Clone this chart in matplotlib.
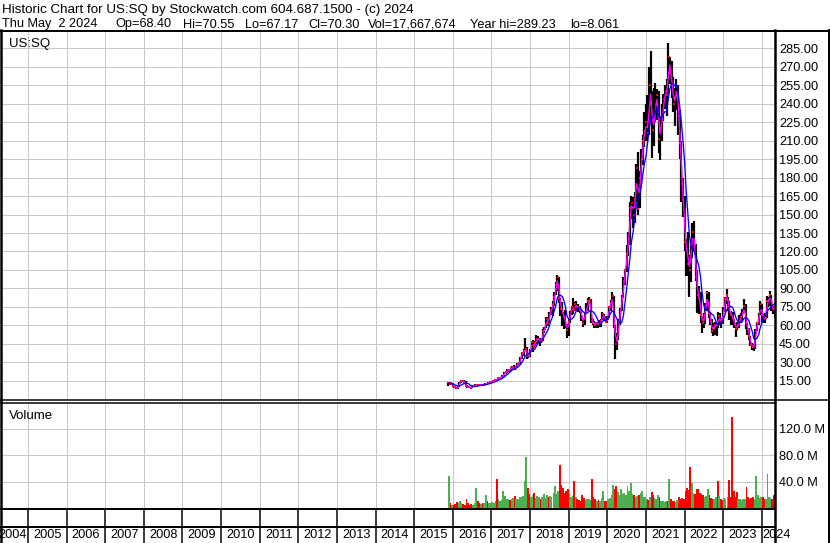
import numpy as np
import pandas as pd
import matplotlib
matplotlib.use('Agg')
import matplotlib.pyplot as plt
from matplotlib.lines import Line2D

plt.rcParams['font.family'] = ['Liberation Sans', 'DejaVu Sans']

# semi-monthly bars, US:SQ, Nov 2015 -> May 2024
close = [12.9, 12.5, 13.0,
         10.8, 9.6, 9.0, 10.1, 13.5, 15.0, 14.5, 14.2, 11.0, 9.8, 9.7, 9.2, 10.6, 10.9, 11.5, 11.3, 11.2, 11.7, 11.6, 11.9, 12.6, 12.4, 13.5, 13.6,
         14.3, 14.6, 15.5, 15.4, 17.0, 17.3, 17.6, 19.0, 21.3, 21.8, 24.0, 23.5, 25.0, 26.3, 24.4, 26.0, 28.7, 28.8, 33.5, 37.2, 39.0, 41.0, 35.5, 34.7,
         40.0, 46.5, 42.0, 45.5, 49.0, 49.2, 47.5, 47.5, 55.0, 57.0, 65.0, 61.6, 69.0, 72.5, 76.5, 83.0, 93.0, 99.0, 82.0, 73.5, 70.0, 66.5, 60.5, 56.1,
         63.0, 71.3, 74.5, 72.5, 77.0, 75.0, 74.5, 72.9, 66.0, 62.0, 70.0, 72.5, 79.5, 80.4, 63.5, 61.8, 60.5, 61.9, 61.0, 61.9, 63.5, 69.0, 66.8, 62.6,
         65.5, 74.6, 78.0, 83.5, 62.0, 45.0, 48.5, 63.0, 72.0, 82.0, 96.0, 104.9, 118.0, 129.8, 155.0, 159.6, 150.0, 162.5, 188.0, 154.8, 180.0, 195.0, 210.0, 217.6,
         225.0, 216.0, 255.0, 240.0, 219.0, 227.0, 240.0, 247.0, 211.0, 220.0, 230.0, 243.8, 250.0, 247.0, 278.0, 265.0, 255.0, 240.0, 245.0, 254.5, 230.0, 208.0, 175.0, 161.5,
         128.0, 122.0, 110.0, 105.0, 125.0, 135.6, 125.0, 99.5, 85.0, 82.0, 68.0, 61.5, 65.0, 76.0, 86.0, 70.0, 63.0, 55.0, 58.0, 60.1, 60.0, 67.8, 64.0, 62.8,
         72.0, 81.7, 85.0, 75.0, 71.0, 68.6, 65.0, 60.8, 57.0, 60.0, 64.0, 66.6, 70.0, 75.4, 62.0, 57.0, 51.0, 44.3, 42.0, 42.3, 55.0, 61.9, 66.0, 77.4,
         68.0, 65.0, 66.0, 79.5, 80.0, 84.6, 76.0, 73.0, 70.3]
high = [14.2, 13.6, 13.5,
        13.0, 11.0, 10.2, 10.6, 14.0, 15.6, 15.5, 15.3, 14.4, 11.4, 10.3, 10.0, 11.0, 11.3, 12.0, 11.9, 11.8, 12.1, 12.5, 12.6, 13.0, 13.2, 14.0, 14.3,
        15.0, 15.3, 16.0, 16.7, 17.5, 18.0, 18.3, 19.8, 22.0, 22.8, 24.7, 24.8, 25.6, 27.0, 27.5, 27.2, 29.3, 30.0, 34.5, 38.4, 40.5, 49.6, 42.5, 37.5,
        41.0, 47.5, 48.0, 47.0, 52.0, 51.5, 50.0, 49.5, 57.0, 59.0, 67.0, 66.5, 70.5, 75.0, 80.0, 87.0, 95.0, 101.0, 99.0, 82.0, 79.0, 71.0, 72.5, 61.0,
        65.0, 72.0, 75.0, 82.5, 79.0, 80.0, 77.5, 75.5, 73.0, 66.0, 71.0, 78.0, 82.0, 83.0, 81.0, 65.5, 63.5, 63.0, 62.5, 64.0, 65.0, 71.0, 69.5, 67.0,
        67.5, 76.0, 80.5, 87.0, 84.0, 60.0, 54.0, 65.0, 74.0, 85.0, 99.0, 106.0, 125.0, 136.0, 160.0, 165.0, 164.0, 168.0, 191.0, 201.0, 185.0, 203.0, 215.0, 233.0,
        240.0, 247.0, 270.0, 283.0, 250.0, 253.0, 257.0, 252.0, 250.0, 230.0, 240.0, 248.0, 255.0, 260.0, 289.0, 278.0, 275.0, 262.0, 253.0, 260.0, 255.0, 235.0, 210.0, 180.0,
        165.0, 130.0, 136.0, 117.0, 130.0, 143.0, 145.0, 126.0, 105.0, 92.0, 87.0, 67.0, 70.0, 78.0, 88.0, 87.0, 71.0, 65.0, 62.0, 63.0, 63.0, 71.0, 70.0, 66.0,
        75.0, 83.0, 89.5, 83.0, 80.0, 72.0, 71.0, 65.0, 62.0, 63.0, 68.0, 70.0, 73.0, 81.0, 77.0, 62.0, 58.0, 51.0, 46.0, 45.0, 57.0, 63.0, 70.0, 80.0,
        77.0, 69.0, 70.0, 84.0, 83.0, 87.5, 85.0, 76.0, 70.55]
low = [11.0, 11.8, 11.5,
       9.9, 8.8, 8.1, 8.5, 9.6, 13.2, 13.8, 13.5, 10.5, 9.3, 9.2, 8.7, 9.0, 10.2, 10.5, 10.9, 10.8, 11.0, 11.2, 11.3, 11.6, 12.0, 12.6, 13.1,
       13.4, 14.0, 14.5, 14.7, 15.3, 16.8, 16.9, 17.5, 18.8, 20.8, 21.5, 22.3, 22.8, 24.8, 23.5, 24.0, 26.5, 27.6, 28.6, 33.0, 35.5, 39.0, 33.0, 33.5,
       34.5, 39.5, 38.3, 43.0, 45.0, 45.0, 43.6, 45.5, 47.0, 54.0, 58.0, 59.5, 62.0, 68.0, 67.5, 76.0, 85.0, 88.0, 78.5, 67.5, 59.6, 57.0, 58.0, 49.8,
       51.5, 62.0, 68.0, 69.0, 72.0, 71.5, 71.0, 70.0, 63.5, 58.5, 60.5, 69.5, 72.0, 77.0, 61.5, 60.0, 58.0, 57.5, 58.0, 58.5, 59.0, 64.0, 63.2, 61.5,
       61.5, 66.0, 72.0, 77.0, 58.0, 32.3, 40.0, 48.0, 60.0, 72.0, 82.0, 93.0, 103.0, 116.0, 125.0, 146.0, 139.0, 143.0, 160.0, 150.0, 155.0, 175.0, 190.0, 205.0,
       210.0, 210.0, 215.0, 228.0, 196.0, 206.0, 225.0, 227.0, 200.0, 194.0, 210.0, 226.0, 236.0, 230.0, 245.0, 256.0, 245.0, 233.0, 222.0, 235.0, 215.0, 195.0, 160.0, 148.0,
       120.0, 100.0, 100.0, 82.7, 95.0, 115.0, 120.0, 96.0, 70.0, 69.0, 62.0, 54.0, 58.0, 61.0, 72.0, 66.0, 60.0, 54.0, 51.5, 52.5, 51.3, 58.0, 60.0, 58.0,
       61.0, 71.0, 77.0, 72.0, 64.5, 60.0, 60.5, 58.0, 50.5, 56.0, 58.0, 62.0, 64.0, 70.0, 57.0, 52.0, 48.0, 43.0, 40.0, 38.9, 41.0, 55.0, 60.0, 68.0,
       63.0, 61.5, 62.0, 66.0, 75.0, 76.0, 72.0, 69.0, 67.17]
# volume, millions
volume = [49, 8, 6,
          6, 7, 10, 8, 11, 9, 7, 6, 15, 9, 6, 7, 6, 8, 31, 12, 8, 7, 9, 8, 21, 11, 9, 8,
          10, 9, 12, 45, 14, 12, 13, 26, 19, 14, 15, 13, 14, 16, 19, 15, 14, 17, 18, 19, 41, 78, 31, 22,
          18, 21, 24, 16, 19, 17, 15, 18, 22, 16, 20, 17, 19, 18, 24, 34, 22, 26, 65, 36, 31, 24, 27, 29,
          22, 17, 19, 42, 18, 14, 13, 12, 21, 16, 13, 15, 14, 13, 45, 18, 14, 12, 13, 11, 16, 27, 12, 11,
          14, 16, 20, 36, 30, 34, 25, 20, 29, 22, 24, 20, 34, 26, 38, 22, 20, 18, 19, 21, 24, 27, 18, 17,
          15, 13, 17, 25, 20, 16, 14, 20, 18, 12, 11, 10, 12, 11, 44, 15, 12, 11, 10, 13, 17, 14, 16, 15,
          26, 31, 28, 63, 39, 24, 22, 29, 30, 23, 22, 20, 18, 19, 29, 20, 16, 14, 15, 17, 42, 19, 15, 13,
          16, 15, 18, 43, 17, 137, 26, 17, 25, 15, 14, 13, 14, 15, 33, 17, 14, 16, 18, 15, 49, 20, 16, 18,
          17, 14, 15, 52, 18, 16, 14, 20, 13]

price_ticks = list(range(15, 300, 15))
vol_ticks = [40, 80, 120]
vol_labels = ['40.0 M', '80.0 M', '120.0 M']
years = list(range(2004, 2025))

header1 = 'Historic Chart for US:SQ by Stockwatch.com 604.687.1500 - (c) 2024'
header2 = ['Thu May  2 2024', 'Op=68.40', 'Hi=70.55', 'Lo=67.17', 'Cl=70.30',
           'Vol=17,667,674', 'Year hi=289.23', 'lo=8.061']
header2_x = [2, 115, 183, 245, 308, 368, 470, 570]

dates = pd.date_range('2015-11-15', periods=len(close), freq='SMS')
t = np.array(dates.year + (dates.dayofyear - 1) / 365.25)
c = pd.Series(close)
ma_fast = c.rolling(2, min_periods=1).mean()
ma_slow = c.rolling(6, min_periods=1).mean()
up = np.r_[True, np.diff(close) >= 0]
vol_colors = np.where(up, '#4caf50', '#ff0000')

W, H = 830, 543
fig = plt.figure(figsize=(W / 100, H / 100), dpi=100)


def box(x0, y0, x1, y1):
    return [x0 / W, 1 - y1 / H, (x1 - x0) / W, (y1 - y0) / H]


def px(v):
    return v * 72 / 100


def hline(y, x0, x1, w):
    fig.add_artist(Line2D([x0 / W, x1 / W], [1 - y / H, 1 - y / H], color='black', lw=px(w)))


def vline(x, y0, y1, w):
    fig.add_artist(Line2D([x / W, x / W], [1 - y0 / H, 1 - y1 / H], color='black', lw=px(w)))


XMIN, XMAX = 2004.33, 2024.34
grid_kw = dict(color='#c8c8c8', lw=px(1))

# price panel
ax = fig.add_axes(box(2, 32, 775, 399.2))
ax.set_xlim(XMIN, XMAX)
ax.set_ylim(0, 298.3)
for yr in years[1:]:
    ax.axvline(yr, **grid_kw, zorder=0)
for p in price_ticks:
    ax.axhline(p, **grid_kw, zorder=0)
ax.vlines(t, low, high, color='black', lw=px(2.2), zorder=2)
ax.plot(t + 0.012, close, 's', color='#ff0000', ms=1.8, mew=0, zorder=3)
ax.plot(t, ma_fast, color='#ff00ff', lw=px(1.4), zorder=4)
ax.plot(t, ma_slow, color='#0000ff', lw=px(1.3), zorder=5)
ax.yaxis.tick_right()
ax.set_yticks(price_ticks)
ax.set_yticklabels(['%.2f' % p for p in price_ticks], fontsize=9.2)
ax.tick_params(axis='y', length=0, pad=3)
ax.set_xticks([])
for s in ax.spines.values():
    s.set_visible(False)
ax.text(0.009, 0.985, 'US:SQ', transform=ax.transAxes, fontsize=9.5, va='top', ha='left')

# volume panel
av = fig.add_axes(box(2, 403, 775, 508.5))
av.set_xlim(XMIN, XMAX)
av.set_ylim(0, 158.6)
for yr in years[1:]:
    av.axvline(yr, **grid_kw, zorder=0)
for v in vol_ticks:
    av.axhline(v, **grid_kw, zorder=0)
av.bar(t, volume, width=1.1 / 24, color=vol_colors, align='edge', lw=0, zorder=2)
av.yaxis.tick_right()
av.set_yticks(vol_ticks)
av.set_yticklabels(vol_labels, fontsize=9.2)
av.tick_params(axis='y', length=0, pad=3)
av.set_xticks([])
for s in av.spines.values():
    s.set_visible(False)
av.text(0.009, 0.93, 'Volume', transform=av.transAxes, fontsize=9.5, va='top', ha='left')

# year strip
at = fig.add_axes(box(2, 509, 775, 543))
at.set_xlim(XMIN, XMAX)
at.set_ylim(0, 1)
at.axis('off')
for yr in years[1:]:
    at.axvline(yr, color='black', lw=px(1.5))
for yr in years:
    if yr == years[0]:
        at.text(yr + 0.98, 0.24, str(yr), fontsize=9.2, ha='right', va='center', clip_on=False)
    elif yr == years[-1]:
        at.text(yr + 0.01, 0.24, str(yr), fontsize=9.2, ha='left', va='center', clip_on=False)
    else:
        at.text(yr + 0.5, 0.24, str(yr), fontsize=9.2, ha='center', va='center', clip_on=False)

# frame lines
hline(30.5, 0, 830, 2)
vline(1, 30, 543, 2.5)
hline(400.3, 0, 830, 1.5)
hline(403, 0, 775, 1.5)
vline(774.5, 30, 543, 2.5)
vline(829, 30, 543, 2)
hline(509, 0, 775, 2)
hline(527, 0, 775, 2)

fig.text(2 / W, 1 - 10 / H, header1, fontsize=9.6, va='center', ha='left')
for s, x in zip(header2, header2_x):
    fig.text(x / W, 1 - 24.5 / H, s, fontsize=9.2, va='center', ha='left')

fig.savefig('out.png', dpi=100)
